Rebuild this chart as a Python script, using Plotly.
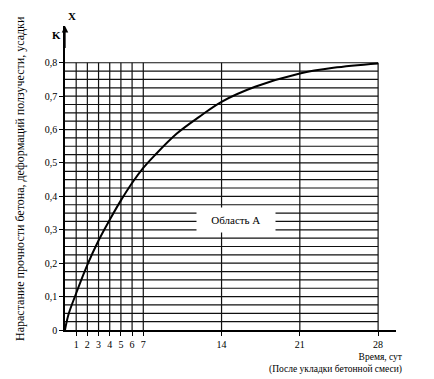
import plotly.graph_objects as go

# Curve data (days, value)
days = [0, 0.3, 1, 2, 3, 4, 5, 6, 7, 8, 10, 12, 14, 17, 21, 24, 28]
values = [0, 0.045, 0.11, 0.195, 0.268, 0.33, 0.388, 0.44, 0.485, 0.522, 0.588, 0.638, 0.683, 0.728, 0.768, 0.785, 0.798]

x_ticks = [1, 2, 3, 4, 5, 6, 7, 14, 21, 28]
y_ticks = [0, 0.1, 0.2, 0.3, 0.4, 0.5, 0.6, 0.7, 0.8]
y_tick_labels = ["0", "0,1", "0,2", "0,3", "0,4", "0,5", "0,6", "0,7", "0,8"]
h_grid = [round(0.025 * i, 3) for i in range(1, 33)]
v_grid = [1, 2, 3, 4, 5, 6, 7, 14, 21, 28]

FONT = "Liberation Serif"
fig = go.Figure()

shapes = []
for yv in h_grid:
    shapes.append(dict(type="line", xref="x", yref="y", x0=0, x1=28, y0=yv, y1=yv,
                       line=dict(color="#111", width=1.2), layer="below"))
for xv in v_grid:
    shapes.append(dict(type="line", xref="x", yref="y", x0=xv, x1=xv, y0=0, y1=0.8,
                       line=dict(color="#111", width=1.2), layer="below"))

fig.add_trace(go.Scatter(x=days, y=values, mode="lines", line=dict(color="black", width=2, shape="spline"),
                         showlegend=False, hoverinfo="skip"))

annotations = [
    dict(x=0, y=0.91, ax=0, ay=0.84, xref="x", yref="y", axref="x", ayref="y",
         showarrow=True, arrowhead=2, arrowsize=1, arrowwidth=1.3, arrowcolor="black", text=""),
    dict(x=0.020, y=1.033, xref="paper", yref="paper", xanchor="center", yanchor="middle",
         text="<b>X</b>", showarrow=False, font=dict(family=FONT, size=11, color="black")),
    dict(x=-0.025, y=0.970, xref="paper", yref="paper", xanchor="center", yanchor="middle",
         text="<b>K</b>", showarrow=False, font=dict(family=FONT, size=11, color="black")),
    dict(x=15.3, y=0.33, xref="x", yref="y", text="&nbsp;&nbsp;&nbsp;Область А&nbsp;&nbsp;&nbsp;", showarrow=False,
         bgcolor="white", borderpad=6, font=dict(family=FONT, size=11, color="black")),
    dict(x=-0.136, y=0.5, xref="paper", yref="paper", xanchor="center", yanchor="middle",
         textangle=-90, showarrow=False,
         text="Нарастание прочности бетона, деформаций ползучести, усадки",
         font=dict(family=FONT, size=12, color="black")),
    dict(x=1.027, y=-0.066, xref="paper", yref="paper", xanchor="right", yanchor="top", showarrow=False,
         align="right", text="Время, сут<br>(После укладки бетонной смеси)",
         font=dict(family=FONT, size=9.5, color="black")),
]

fig.update_layout(
    width=426, height=371,
    margin=dict(l=57, r=38, t=18, b=49),
    paper_bgcolor="white", plot_bgcolor="white",
    shapes=shapes, annotations=annotations,
    xaxis=dict(range=[0, 29.6], tickvals=x_ticks, ticktext=[str(v) for v in x_ticks],
               showgrid=False, zeroline=False, showline=True, linecolor="black", linewidth=1.5,
               ticks="outside", ticklen=4, tickcolor="black",
               tickfont=dict(family=FONT, size=10, color="black")),
    yaxis=dict(range=[0, 0.91], tickvals=y_ticks, ticktext=y_tick_labels,
               showgrid=False, zeroline=False, showline=True, linecolor="black", linewidth=1.5,
               ticks="outside", ticklen=4, tickcolor="black",
               tickfont=dict(family=FONT, size=10, color="black")),
)

fig.write_html("out.html")
